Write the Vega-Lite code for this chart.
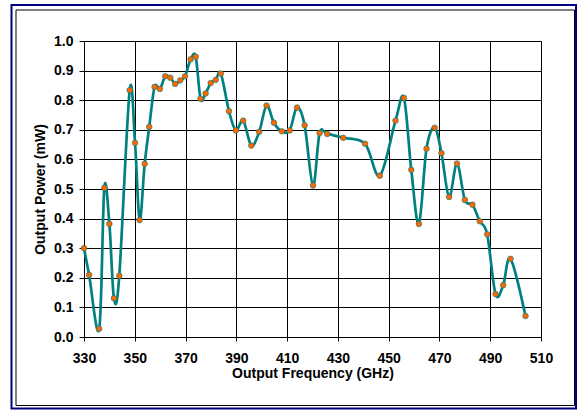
{
  "$schema": "https://vega.github.io/schema/vega-lite/v6.json",
  "width": 457,
  "height": 296,
  "autosize": {"type": "none"},
  "padding": {"left": 84, "top": 41, "right": 36, "bottom": 74},
  "background": "white",
  "config": {
    "font": "Liberation Sans",
    "view": {"stroke": "#808080", "strokeWidth": 1},
    "axis": {
      "grid": true,
      "gridColor": "#000000",
      "gridOpacity": 1,
      "gridWidth": 1,
      "domainColor": "#000000",
      "tickColor": "#000000",
      "labelFontSize": 14,
      "labelFontWeight": "bold",
      "labelColor": "#000000",
      "labelFlush": false,
      "labelOverlap": false,
      "titleFontSize": 14,
      "titleFontWeight": "bold",
      "titleColor": "#000000"
    }
  },
  "encoding": {
    "x": {
      "field": "freq", "type": "quantitative",
      "scale": {"domain": [330, 510], "nice": false, "zero": false},
      "axis": {
        "title": "Output Frequency (GHz)",
        "values": [330, 350, 370, 390, 410, 430, 450, 470, 490, 510],
        "tickSize": 4,
        "labelPadding": 10,
        "titlePadding": 1
      }
    },
    "y": {
      "field": "power", "type": "quantitative",
      "scale": {"domain": [0, 1], "nice": false},
      "axis": {
        "title": "Output Power (mW)",
        "values": [0, 0.1, 0.2, 0.3, 0.4, 0.5, 0.6, 0.7, 0.8, 0.9, 1],
        "format": ".1f",
        "tickSize": 5,
        "labelPadding": 6,
        "titlePadding": 6
      }
    }
  },
  "layer": [
    {
      "data": {"name": "power"},
      "mark": {"type": "line", "interpolate": "cardinal", "color": "#008080", "strokeWidth": 2.7}
    },
    {
      "data": {"name": "power"},
      "mark": {"type": "point", "filled": true, "fill": "#FF6600", "stroke": "#008080", "strokeWidth": 0.6, "opacity": 1, "size": 32}
    },
    {
      "data": {"values": [{}]},
      "mark": {"type": "rect", "fill": null, "stroke": "#000080", "strokeWidth": 2, "xOffset": -72.5, "x2Offset": 35, "yOffset": -36, "y2Offset": 71.5},
      "encoding": {
        "x": {"value": 0}, "x2": {"value": "width"},
        "y": {"value": 0}, "y2": {"value": "height"}
      }
    },
    {
      "data": {"values": [{}]},
      "mark": {"type": "rect", "fill": null, "stroke": "#000000", "strokeWidth": 1, "xOffset": -68, "x2Offset": 33.5, "yOffset": -31, "y2Offset": 68.5},
      "encoding": {
        "x": {"value": 0}, "x2": {"value": "width"},
        "y": {"value": 0}, "y2": {"value": "height"}
      }
    }
  ],
  "datasets": {
    "power": [
      {"freq": 330.0, "power": 0.300},
      {"freq": 332.0, "power": 0.210},
      {"freq": 336.0, "power": 0.028},
      {"freq": 338.0, "power": 0.504},
      {"freq": 340.0, "power": 0.382},
      {"freq": 341.8, "power": 0.131},
      {"freq": 343.9, "power": 0.207},
      {"freq": 348.0, "power": 0.834},
      {"freq": 350.1, "power": 0.656},
      {"freq": 351.9, "power": 0.395},
      {"freq": 353.9, "power": 0.585},
      {"freq": 355.7, "power": 0.710},
      {"freq": 357.8, "power": 0.845},
      {"freq": 359.9, "power": 0.838},
      {"freq": 362.0, "power": 0.881},
      {"freq": 364.0, "power": 0.876},
      {"freq": 365.9, "power": 0.855},
      {"freq": 367.9, "power": 0.867},
      {"freq": 369.8, "power": 0.881},
      {"freq": 372.0, "power": 0.938},
      {"freq": 374.0, "power": 0.947},
      {"freq": 375.9, "power": 0.805},
      {"freq": 377.9, "power": 0.823},
      {"freq": 379.9, "power": 0.858},
      {"freq": 381.9, "power": 0.869},
      {"freq": 383.9, "power": 0.890},
      {"freq": 387.1, "power": 0.763},
      {"freq": 389.8, "power": 0.698},
      {"freq": 392.7, "power": 0.731},
      {"freq": 395.9, "power": 0.647},
      {"freq": 399.0, "power": 0.693},
      {"freq": 401.9, "power": 0.782},
      {"freq": 404.8, "power": 0.724},
      {"freq": 407.9, "power": 0.695},
      {"freq": 411.0, "power": 0.698},
      {"freq": 413.9, "power": 0.775},
      {"freq": 416.9, "power": 0.715},
      {"freq": 420.2, "power": 0.512},
      {"freq": 422.8, "power": 0.689},
      {"freq": 425.8, "power": 0.686},
      {"freq": 432.1, "power": 0.673},
      {"freq": 440.7, "power": 0.653},
      {"freq": 446.5, "power": 0.545},
      {"freq": 452.7, "power": 0.731},
      {"freq": 456.0, "power": 0.808},
      {"freq": 458.9, "power": 0.565},
      {"freq": 461.9, "power": 0.382},
      {"freq": 464.9, "power": 0.636},
      {"freq": 468.1, "power": 0.707},
      {"freq": 470.8, "power": 0.621},
      {"freq": 473.8, "power": 0.473},
      {"freq": 476.9, "power": 0.586},
      {"freq": 480.0, "power": 0.463},
      {"freq": 483.0, "power": 0.447},
      {"freq": 485.9, "power": 0.391},
      {"freq": 488.8, "power": 0.347},
      {"freq": 492.1, "power": 0.145},
      {"freq": 495.1, "power": 0.175},
      {"freq": 498.0, "power": 0.264},
      {"freq": 503.9, "power": 0.071}
    ]
  }
}
